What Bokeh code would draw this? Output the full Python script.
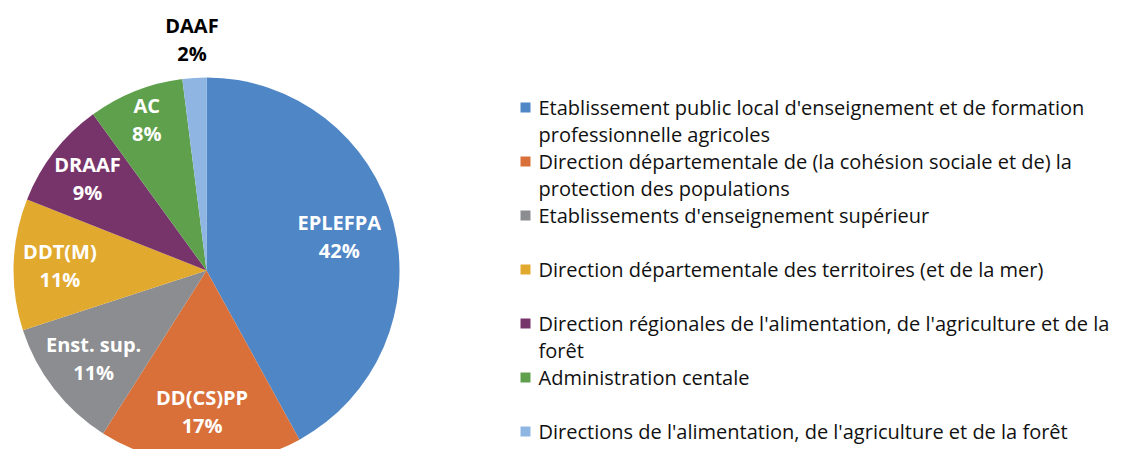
import math
from bokeh.plotting import figure
from bokeh.models import Range1d, ColumnDataSource
from bokeh.embed import file_html
from bokeh.resources import INLINE
from bokeh.core.properties import value

# ---- data ----
short_labels = ["EPLEFPA", "DD(CS)PP", "Enst. sup.", "DDT(M)", "DRAAF", "AC", "DAAF"]
shares = [42, 17, 11, 11, 9, 8, 2]
legend_labels = [
    "Etablissement public local d'enseignement et de formation\nprofessionnelle agricoles",
    "Direction départementale de (la cohésion sociale et de) la\nprotection des populations",
    "Etablissements d'enseignement supérieur",
    "Direction départementale des territoires (et de la mer)",
    "Direction régionales de l'alimentation, de l'agriculture et de la\nforêt",
    "Administration centale",
    "Directions de l'alimentation, de l'agriculture et de la forêt",
]

# ---- style ----
colors = ["#4F86C5", "#D9703A", "#8B8D90", "#E2A92F", "#77346A", "#5FA04D", "#8FB6E2"]
label_r = [0.71, 0.73, 0.74, 0.76, 0.78, 0.84, 1.20]
label_colors = ["white"] * 6 + ["black"]

W, H = 1127, 449
p = figure(width=W, height=H, x_range=Range1d(0, W), y_range=Range1d(-H, 0),
           output_backend="svg", toolbar_location=None, min_border=0,
           x_axis_location=None, y_axis_location=None)
p.grid.visible = False
p.outline_line_color = None
p.background_fill_color = "white"
p.border_fill_color = "white"

cx, cy, R = 206, -270, 193
total = sum(shares)
starts, ends, mids = [], [], []
cum = 0
for v in shares:
    a0 = math.pi / 2 - 2 * math.pi * cum / total
    cum += v
    a1 = math.pi / 2 - 2 * math.pi * cum / total
    starts.append(a0)
    ends.append(a1)
    mids.append((a0 + a1) / 2)

src = ColumnDataSource(dict(start=starts, end=ends, color=colors))
p.wedge(x=cx, y=cy, radius=R, start_angle="start", end_angle="end", direction="clock",
        fill_color="color", line_color=None, source=src)

lx = [cx + R * f * math.cos(m) for f, m in zip(label_r, mids)]
ly = [cy + R * f * math.sin(m) for f, m in zip(label_r, mids)]
lab_src = ColumnDataSource(dict(x=lx, y1=[y + 14 for y in ly], y2=[y - 14 for y in ly],
                                name=short_labels, pct=[f"{v}%" for v in shares],
                                c=label_colors))
for ycol, tcol in (("y1", "name"), ("y2", "pct")):
    p.text(x="x", y=ycol, text=tcol, source=lab_src, text_color="c",
           text_font=value("Open Sans"), text_font_style="bold", text_font_size="20px",
           text_align="center", text_baseline="middle")

# ---- legend ----
leg_x, leg_y0, leg_step, line_step = 525, -107, -54, -27
sq_x, sq_y, sq_c, tx, ty, tt = [], [], [], [], [], []
for i, (lab, c) in enumerate(zip(legend_labels, colors)):
    y0 = leg_y0 + leg_step * i
    sq_x.append(leg_x)
    sq_y.append(y0)
    sq_c.append(c)
    for j, line in enumerate(lab.split("\n")):
        tx.append(leg_x + 13)
        ty.append(y0 + line_step * j)
        tt.append(line)
p.rect(x=sq_x, y=sq_y, width=10, height=10, fill_color=sq_c, line_color=None)
p.text(x=tx, y=ty, text=tt, text_color="#111111", text_font=value("Open Sans"),
       text_font_size="20px", text_align="left", text_baseline="middle")

open("out.html", "w").write(file_html(p, INLINE))
